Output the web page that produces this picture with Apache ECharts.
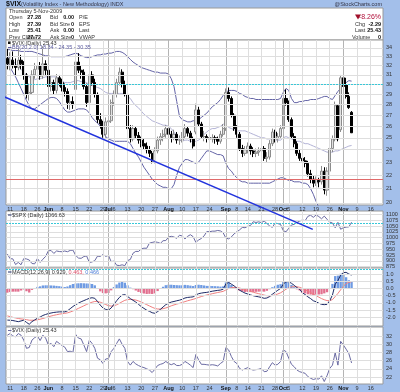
<!DOCTYPE html>
<html><head><meta charset="utf-8">
<script src="https://cdn.jsdelivr.net/npm/echarts@6/dist/echarts.min.js"></script>
<style>html,body{margin:0;padding:0;background:#a3bfea}#c{width:400px;height:392px}</style>
</head><body><div id="c"></div><script>
// ---------- categories (trading days, 8-May-2009 .. 20-Nov-2009) ----------
const dates = ["5/8","5/11","5/12","5/13","5/14","5/15","5/18","5/19","5/20","5/21","5/22","5/26","5/27","5/28","5/29",
"6/1","6/2","6/3","6/4","6/5","6/8","6/9","6/10","6/11","6/12","6/15","6/16","6/17","6/18","6/19","6/22","6/23","6/24","6/25","6/26","6/29","6/30",
"7/1","7/2","7/6","7/7","7/8","7/9","7/10","7/13","7/14","7/15","7/16","7/17","7/20","7/21","7/22","7/23","7/24","7/27","7/28","7/29","7/30","7/31",
"8/3","8/4","8/5","8/6","8/7","8/10","8/11","8/12","8/13","8/14","8/17","8/18","8/19","8/20","8/21","8/24","8/25","8/26","8/27","8/28","8/31",
"9/1","9/2","9/3","9/4","9/8","9/9","9/10","9/11","9/14","9/15","9/16","9/17","9/18","9/21","9/22","9/23","9/24","9/25","9/28","9/29","9/30",
"10/1","10/2","10/5","10/6","10/7","10/8","10/9","10/12","10/13","10/14","10/15","10/16","10/19","10/20","10/21","10/22","10/23","10/26","10/27","10/28","10/29","10/30",
"11/2","11/3","11/4","11/5","11/6","11/9","11/10","11/11","11/12","11/13","11/16","11/17","11/18","11/19","11/20"];

// ---------- $VIX daily OHLC ----------
const vixOpen = [32.8,32.2,32.6,32.0,31.8,32.6,32.2,31.0,29.0,29.2,31.0,31.6,32.0,30.9,32.2,
31.5,29.8,30.2,29.4,30.7,30.2,29.7,29.3,28.2,28.3,29.5,32.4,31.5,31.3,29.8,28.2,31.0,30.2,29.0,26.6,26.2,25.3,
26.4,26.5,28.2,29.0,30.2,31.3,30.0,29.0,25.8,24.9,25.8,25.2,24.8,24.5,24.3,24.0,23.7,23.1,23.9,24.8,25.1,25.3,
25.8,25.3,25.0,25.3,24.8,24.8,25.1,25.8,25.4,24.9,25.5,27.5,26.2,25.1,25.1,25.0,24.9,25.0,24.9,24.7,25.3,
25.8,29.2,28.6,27.0,25.8,25.3,24.1,23.7,24.0,24.3,23.9,23.7,23.8,23.9,24.1,23.3,23.4,24.5,25.5,24.9,25.1,
25.8,28.6,28.2,26.6,25.1,24.5,23.7,23.3,23.1,22.9,22.1,21.7,21.4,21.6,21.5,22.3,20.9,22.3,24.1,24.9,27.9,25.7,
30.7,30.0,28.8,27.28];
const vixHigh = [33.9,33.5,33.6,32.8,34.0,33.2,32.5,31.2,30.1,31.5,32.3,32.9,32.4,34.2,32.6,
31.6,30.9,30.5,31.1,31.0,30.6,30.1,29.6,28.9,28.8,32.7,33.4,32.0,31.6,30.1,31.3,31.4,30.6,29.2,27.2,26.5,26.8,
27.1,28.5,29.4,30.6,31.8,31.6,30.4,29.1,26.1,26.1,26.0,25.5,25.1,24.9,24.6,24.3,23.9,24.2,25.1,25.4,25.7,26.1,
26.0,25.6,25.7,25.5,25.2,25.5,26.2,26.0,25.6,25.1,28.1,27.8,26.4,25.6,25.3,25.4,25.3,25.2,25.1,25.6,26.2,
29.6,29.7,28.8,27.2,26.1,25.5,24.4,24.3,24.6,24.5,24.2,24.1,24.2,24.4,24.3,23.8,24.8,25.8,25.7,25.4,26.1,
28.9,29.5,28.4,26.8,25.4,24.7,24.0,23.6,23.4,23.1,22.4,22.0,21.9,21.8,22.7,22.6,22.6,24.4,25.2,28.3,28.0,31.0,
31.6,30.7,29.2,27.39];
const vixLow = [31.6,31.5,31.7,30.9,31.5,31.6,30.5,28.6,28.4,29.0,30.6,31.2,30.5,30.6,31.0,
29.5,29.3,29.0,29.1,29.8,29.3,28.8,27.6,27.5,27.6,29.3,31.2,30.6,29.5,27.8,28.0,29.9,28.7,26.3,25.8,25.0,25.0,
25.9,26.3,27.9,28.7,29.9,29.7,28.8,25.6,24.6,24.7,24.9,24.5,24.2,24.0,23.7,23.4,22.9,22.9,23.7,24.4,24.7,25.0,
25.0,24.6,24.8,24.5,24.4,24.6,24.9,25.1,24.6,24.1,25.3,26.0,24.9,24.7,24.6,24.6,24.6,24.5,24.4,24.5,25.1,
25.6,28.3,26.8,25.6,25.0,23.9,23.4,23.5,23.7,23.6,23.4,23.4,23.5,23.6,23.1,23.0,23.2,24.3,24.6,24.6,24.9,
25.6,27.9,26.4,24.9,24.2,23.5,23.1,22.8,22.6,21.9,21.4,21.1,21.2,21.1,21.3,20.6,20.5,22.1,23.8,24.7,24.7,25.5,
29.5,28.6,27.6,25.41];
const vixClose = [32.2,32.6,32.0,31.8,32.6,32.2,31.0,29.0,29.2,31.0,31.6,32.0,30.9,32.2,31.5,
29.8,30.2,29.4,30.7,30.2,29.7,29.3,28.2,28.3,28.0,32.4,31.5,31.3,29.8,28.2,31.0,30.2,29.0,26.6,26.2,25.3,26.4,
26.5,28.2,29.0,30.2,31.3,30.0,29.0,25.8,24.9,25.8,25.2,24.8,24.5,24.3,24.0,23.7,23.1,23.9,24.8,25.1,25.3,25.8,
25.3,25.0,25.3,24.8,24.8,25.1,25.8,25.4,24.9,24.3,27.5,26.2,25.1,25.1,25.0,24.9,25.0,24.9,24.7,25.3,25.8,
29.2,28.6,27.0,25.8,25.3,24.1,23.7,24.0,24.3,23.9,23.7,23.8,23.9,24.1,23.3,23.4,24.5,25.5,24.9,25.1,25.8,
28.6,28.2,26.6,25.1,24.5,23.7,23.3,23.1,22.9,22.1,21.7,21.4,21.6,21.5,22.3,20.9,22.3,24.1,24.9,27.9,24.9,30.7,
29.8,28.8,27.72,25.43];

// ---------- Bollinger Bands (20,2) ----------
const bbUpper = [33.8,33.8,33.7,33.7,33.7,33.6,33.6,33.6,33.6,33.6,33.5,
33.4,33.3,33.2,33.1,33.1,33.0,33.0,33.0,33.0,33.0,
33.0,33.1,33.2,33.3,33.4,33.3,33.1,33.0,32.9,32.9,
33.0,33.1,33.2,33.2,33.3,33.3,33.4,33.4,33.5,33.6,
33.6,33.5,33.3,33.0,32.7,32.4,32.2,32.0,31.8,31.7,
31.6,31.5,31.4,31.3,31.3,31.2,31.2,31.2,31.1,30.6,
29.8,28.3,26.9,26.6,26.5,26.4,26.4,26.5,26.5,26.6,
26.8,27.0,27.2,27.5,27.8,28.0,28.2,28.5,28.9,29.2,
29.4,29.4,29.4,29.3,29.1,29.0,28.8,28.7,28.6,28.6,
28.5,28.5,28.5,28.5,28.5,28.5,28.5,28.5,28.5,28.6,
29.2,29.6,29.4,28.6,28.2,28.2,28.3,28.3,28.4,28.4,
28.5,28.5,28.5,28.6,28.7,28.8,28.8,28.6,28.5,28.9,
29.3,29.6,29.9,30.2,30.4,30.35];
const bbMiddle = [33.0,32.8,32.5,32.2,31.9,31.6,31.3,31.0,30.8,30.6,30.5,
30.6,30.6,30.7,30.8,30.8,30.8,30.8,30.8,30.6,30.4,
30.2,30.2,30.2,30.3,30.4,30.4,30.3,30.3,30.2,30.0,
29.9,29.8,29.7,29.6,29.4,29.2,29.1,29.1,29.1,29.1,
29.1,29.1,29.0,28.8,28.6,28.2,27.9,27.7,27.4,27.1,
26.9,26.7,26.5,26.4,26.3,26.2,26.1,26.1,26.0,25.8,
25.5,25.1,24.8,24.7,24.8,24.8,24.7,24.7,24.7,24.8,
25.0,25.3,25.5,25.7,25.8,25.8,25.9,26.0,26.2,26.1,
25.9,25.8,25.7,25.6,25.6,25.6,25.6,25.5,25.4,25.3,
25.2,25.1,25.0,25.0,24.9,24.9,24.9,24.8,24.8,24.8,
25.0,25.1,25.0,24.9,24.8,24.7,24.7,24.6,24.5,24.5,
24.4,24.3,24.2,24.1,24.0,23.9,23.8,23.8,23.8,23.9,
23.9,24.0,24.1,24.2,24.3,24.35];
const bbLower = [32.2,31.8,31.3,30.8,30.2,29.6,29.0,28.4,27.9,27.6,27.6,
27.8,28.0,28.2,28.4,28.6,28.7,28.7,28.6,28.3,27.9,
27.5,27.3,27.3,27.4,27.5,27.6,27.6,27.6,27.5,27.2,
26.8,26.5,26.3,26.0,25.5,25.1,24.9,24.8,24.7,24.7,
24.7,24.7,24.7,24.7,24.5,24.1,23.7,23.4,23.0,22.6,
22.3,22.0,21.7,21.5,21.3,21.2,21.1,21.1,21.0,21.0,
21.3,22.0,22.6,22.9,23.2,23.2,23.1,23.0,22.9,23.0,
23.3,23.6,23.9,23.9,23.8,23.7,23.6,23.6,23.5,22.9,
22.5,22.3,22.0,21.8,21.6,21.5,21.5,21.4,21.4,21.4,
21.4,21.4,21.4,21.4,21.4,21.4,21.5,21.6,21.7,21.8,
21.8,21.7,21.6,21.6,21.5,21.5,21.5,21.4,21.4,21.3,
21.0,20.6,20.1,19.7,19.4,19.1,18.9,18.7,18.6,18.5,
18.4,18.3,18.3,18.3,18.3,18.34];

// ---------- $SPX daily close ----------
const spxClose = [929.2,909.2,908.4,883.9,893.1,882.9,909.7,908.1,903.5,888.3,887.0,910.3,893.1,906.8,919.1,
942.9,944.7,931.8,942.5,940.1,939.1,942.4,939.2,944.9,946.2,923.7,912.0,910.7,918.4,921.2,893.0,895.1,900.9,920.3,918.9,927.2,919.3,
923.3,896.4,898.7,881.0,879.6,882.7,879.1,901.1,905.8,932.7,940.7,940.4,951.1,954.6,954.1,976.3,979.3,982.2,979.6,975.2,986.8,987.5,
1002.6,1005.7,1002.7,997.1,1010.5,1007.1,994.4,1005.8,1012.7,1004.1,979.7,989.7,996.5,1007.4,1026.1,1025.6,1028.0,1028.1,1031.0,1028.9,1020.6,
998.0,994.8,1003.2,1016.4,1025.4,1033.4,1044.1,1042.7,1049.3,1052.6,1068.8,1065.5,1068.3,1064.7,1071.7,1060.9,1050.8,1044.4,1063.0,1060.6,1057.1,
1029.9,1025.2,1040.5,1054.7,1057.6,1065.5,1071.5,1076.2,1073.2,1092.0,1096.6,1087.7,1097.9,1091.1,1081.4,1092.9,1079.6,1067.0,1063.4,1042.6,1066.1,1036.2,
1042.9,1045.4,1046.5,1066.6];

// ---------- MACD(12,26,9) of $VIX ----------
const macdLine = [-2.19,-2.2,-2.22,-2.26,-2.3,-2.25,-2.2,-2.35,-2.48,-2.3,-2.18,-2.06,-1.98,-1.87,-1.8,
-1.74,-1.7,-1.66,-1.64,-1.62,-1.62,-1.62,-1.55,-1.4,-1.25,-1.12,-1.02,-0.92,-0.84,-0.76,-0.68,-0.64,-0.68,-0.9,-1.15,-1.35,-1.45,
-1.5,-1.35,-1.1,-0.85,-0.62,-0.46,-0.42,-0.55,-0.7,-0.82,-0.94,-1.1,-1.25,-1.38,-1.5,-1.58,-1.68,-1.72,-1.6,-1.45,-1.28,-1.12,
-1.02,-0.94,-0.9,-0.85,-0.81,-0.75,-0.66,-0.62,-0.6,-0.58,-0.45,-0.36,-0.32,-0.29,-0.27,-0.23,-0.19,-0.16,-0.13,-0.11,-0.05,
0.32,0.42,0.3,0.18,0.02,-0.12,-0.22,-0.32,-0.38,-0.45,-0.5,-0.54,-0.58,-0.62,-0.68,-0.66,-0.56,-0.4,-0.26,-0.12,0.0,
0.3,0.47,0.46,0.36,0.22,0.06,-0.06,-0.3,-0.42,-0.58,-0.7,-0.85,-0.92,-1.02,-1.1,-1.12,-1.1,-0.85,-0.45,0.3,0.55,0.93,
1.1,1.12,1.0,0.929];
const macdSignal = [-1.9,-1.95,-2.0,-2.04,-2.08,-2.11,-2.13,-2.16,-2.2,-2.2,-2.2,-2.17,-2.13,-2.08,-2.02,
-1.96,-1.91,-1.86,-1.82,-1.78,-1.75,-1.72,-1.69,-1.63,-1.56,-1.47,-1.38,-1.29,-1.2,-1.11,-1.02,-0.95,-0.9,-0.9,-0.95,-1.03,-1.11,
-1.19,-1.22,-1.2,-1.13,-1.03,-0.92,-0.82,-0.77,-0.76,-0.77,-0.8,-0.86,-0.94,-1.03,-1.12,-1.21,-1.3,-1.38,-1.42,-1.43,-1.4,-1.35,
-1.28,-1.2,-1.14,-1.08,-1.03,-0.97,-0.91,-0.85,-0.8,-0.75,-0.69,-0.62,-0.56,-0.5,-0.45,-0.41,-0.36,-0.32,-0.28,-0.24,-0.2,
-0.1,0.0,0.06,0.08,0.07,0.03,-0.02,-0.08,-0.14,-0.2,-0.26,-0.31,-0.36,-0.41,-0.46,-0.5,-0.51,-0.49,-0.44,-0.38,-0.3,
-0.18,-0.05,0.05,0.11,0.13,0.12,0.08,0.0,-0.08,-0.18,-0.28,-0.4,-0.5,-0.6,-0.7,-0.78,-0.84,-0.84,-0.77,-0.56,-0.34,-0.09,
0.15,0.34,0.43,0.463];
const macdHist = [-0.29,-0.25,-0.22,-0.22,-0.22,-0.14,-0.07,-0.19,-0.28,-0.1,0.02,0.11,0.15,0.21,0.22,
0.22,0.21,0.2,0.18,0.16,0.13,0.1,0.14,0.23,0.31,0.35,0.36,0.37,0.36,0.35,0.34,0.31,0.22,0.0,-0.2,-0.32,-0.34,
-0.31,-0.13,0.1,0.28,0.41,0.46,0.4,0.22,0.06,-0.05,-0.14,-0.24,-0.31,-0.35,-0.38,-0.37,-0.38,-0.34,-0.18,-0.02,0.12,0.23,
0.26,0.26,0.24,0.23,0.22,0.22,0.25,0.23,0.2,0.17,0.24,0.26,0.24,0.21,0.18,0.18,0.17,0.16,0.15,0.13,0.15,
0.42,0.42,0.24,0.1,-0.05,-0.15,-0.2,-0.24,-0.24,-0.25,-0.24,-0.23,-0.22,-0.21,-0.22,-0.16,-0.05,0.09,0.18,0.26,0.3,
0.48,0.52,0.41,0.25,0.09,-0.06,-0.14,-0.3,-0.34,-0.4,-0.42,-0.45,-0.42,-0.42,-0.4,-0.34,-0.26,-0.01,0.32,0.86,0.89,1.02,
0.95,0.78,0.57,0.466];

// ---------- axis ticks ----------
const xTicks = [["5/11","11"],["5/18","18"],["5/26","26"],["6/1","Jun"],["6/8","8"],["6/15","15"],["6/22","22"],["6/29","29"],
["7/1","Jul"],["7/6","6"],["7/13","13"],["7/20","20"],["7/27","27"],["8/3","Aug"],["8/10","10"],["8/17","17"],["8/24","24"],
["9/1","Sep"],["9/8","8"],["9/14","14"],["9/21","21"],["9/28","28"],["10/1","Oct"],["10/5","5"],["10/12","12"],["10/19","19"],
["10/26","26"],["11/2","Nov"],["11/9","9"],["11/16","16"]];
const monthTicks = ["6/1","7/1","8/3","9/1","10/1","11/2"];
const vixTicks = [20,21,22,23,24,25,26,27,28,29,30,31,32,33,34];
const spxTicks = [875,900,925,950,975,1000,1025,1050,1075,1100];
const macdTicks = [-2.0,-1.5,-1.0,-0.5,0.0,0.5,1.0];
const vixLineTicks = [22,24,26,28,30,32];
// annotation lines
const trendX = [-2.7, 111.8];
const trendY = [28.94, 18.27];
const vixLevels = {cyan: 30.0, red: 21.7};
const spxLevel = 1062;

// ---------- header ----------
const quote = {date:"Thursday 5-Nov-2009", open:"27.28", high:"27.39", low:"25.41", prev:"27.72",
  pct:"-8.26%", chg:"-2.29", last:"25.43", volume:"0"};

const FONT = "'Liberation Sans', Arial, sans-serif";
const GL = '#dedede', GM = '#b4b4b4', LBL = '#333';
const tickMap = {}; xTicks.forEach(t => tickMap[t[0]] = t[1]);
const grids = [
  {left:6, top:40, width:377, height:165},
  {left:6, top:211, width:377, height:57},
  {left:6, top:268, width:377, height:58},
  {left:6, top:327, width:377, height:57}
].map(g => Object.assign(g, {show:true, backgroundColor:'#fff', borderColor:'#9a9a9a', borderWidth:1}));

function xAx(i, labels){
  return {type:'category', gridIndex:i, data:dates, boundaryGap:true,
    axisLine:{show:false}, axisTick:{show:false}, splitLine:{show:false},
    axisLabel:{show:labels, interval:(idx, v) => tickMap[v] !== undefined, hideOverlap:false,
      formatter:(v) => tickMap[v] === undefined ? '' : (monthTicks.includes(v) ? '{m|' + tickMap[v] + '}' : tickMap[v]),
      rich:{m:{fontSize:5.5, fontFamily:FONT, color:'#111', fontWeight:'bold'}},
      fontSize:5.5, fontFamily:FONT, color:LBL, margin:1.5}};
}
function vLines(){
  return xTicks.map(t => ({xAxis:t[0], lineStyle:{color: monthTicks.includes(t[0]) ? GM : GL}}));
}
function hLines(vals, fmt){
  return vals.map(v => ({yAxis:v, label:{show:true, position:'end', formatter:fmt(v), distance:3,
    fontSize:5.5, fontFamily:FONT, color:LBL}}));
}
function gridSeries(i, vals, fmt){
  return {type:'line', xAxisIndex:i, yAxisIndex:i, data:[], z:1, silent:true,
    markLine:{silent:true, animation:false, symbol:['none','none'], precision:4,
      lineStyle:{type:'solid', width:1, color:GL}, label:{show:false},
      data:[...vLines(), ...hLines(vals, fmt)]}};
}
const posColor = '#6f9be3', negColor = '#e2708f';

const option = {
  animation:false,
  backgroundColor:'#a3bfea',
  grid: grids,
  xAxis:[xAx(0,true), xAx(1,false), xAx(2,false), xAx(3,true),
    {type:'value', gridIndex:0, min:-0.5, max:137.5, show:false}],
  yAxis:[
    {type:'log', logBase:10, gridIndex:0, min:19.86, max:34.94, show:false},
    {type:'value', gridIndex:1, min:869, max:1115, show:false},
    {type:'value', gridIndex:2, min:-2.6, max:1.42, show:false},
    {type:'value', gridIndex:3, min:20.3, max:34.2, show:false}
  ],
  series:[
    gridSeries(0, vixTicks, v => String(v)),
    gridSeries(1, spxTicks, v => String(v)),
    gridSeries(2, macdTicks, v => v.toFixed(1)),
    gridSeries(3, vixLineTicks, v => String(v)),
    {type:'line', xAxisIndex:0, yAxisIndex:0, data:bbMiddle, symbol:'none', z:2, lineStyle:{color:'#b3b3d6', width:1}},
    {type:'line', xAxisIndex:0, yAxisIndex:0, data:bbUpper, symbol:'none', z:2, lineStyle:{color:'#6464a6', width:1}},
    {type:'line', xAxisIndex:0, yAxisIndex:0, data:bbLower, symbol:'none', z:2, lineStyle:{color:'#6464a6', width:1}},
    {type:'candlestick', xAxisIndex:0, yAxisIndex:0, z:3, barWidth:2.6,
      data: vixOpen.map((o,i) => [o, vixClose[i], vixLow[i], vixHigh[i]]),
      itemStyle:{color:'#e2e2e2', color0:'#000', borderColor:'#8c8c8c', borderColor0:'#000', borderWidth:1}},
    {type:'line', xAxisIndex:0, yAxisIndex:0, data:[], z:4, silent:true,
      markLine:{silent:true, symbol:['none','none'], label:{show:false}, data:[
        {yAxis:vixLevels.cyan, lineStyle:{color:'#38c8d8', type:[2,1], width:1}},
        {yAxis:vixLevels.red, lineStyle:{color:'#e06a6a', type:'solid', width:1}}]}},
    {type:'line', xAxisIndex:4, yAxisIndex:0, clip:false, z:6, symbol:'none',
      data: trendX.map((x,i)=>[x, trendY[i]]), lineStyle:{color:'#2233dd', width:1.5}},
    {type:'line', xAxisIndex:1, yAxisIndex:1, data:spxClose, symbol:'none', z:2, lineStyle:{color:'#6a6aa2', width:1},
      markLine:{silent:true, symbol:['none','none'], label:{show:false}, data:[
        {yAxis:spxLevel, lineStyle:{color:'#38c8d8', type:[2,1], width:1}}]}},
    {type:'bar', xAxisIndex:2, yAxisIndex:2, data:macdHist, z:2, barWidth:'85%',
      itemStyle:{color:(p) => p.value >= 0 ? posColor : negColor},
      markLine:{silent:true, symbol:['none','none'], label:{show:false}, data:[
        {yAxis:1.33, lineStyle:{color:'#38c8d8', type:[2,1], width:1}}]}},
    {type:'line', xAxisIndex:2, yAxisIndex:2, data:macdSignal, symbol:'none', z:3, lineStyle:{color:'#f07f7f', width:1}},
    {type:'line', xAxisIndex:2, yAxisIndex:2, data:macdLine, symbol:'none', z:4, lineStyle:{color:'#1d2a66', width:1}},
    {type:'line', xAxisIndex:3, yAxisIndex:3, data:vixClose, symbol:'none', z:2, lineStyle:{color:'#6a6aa2', width:1}}
  ],
  graphic:[]
};

const G = option.graphic;
function txt(x, y, s, o){
  G.push({type:'text', x:x, y:y, silent:true, z:100, style:Object.assign({text:s, fontSize:5.5, fontFamily:FONT, fill:'#333',
    align:'left', verticalAlign:'middle'}, o||{})});
}
G.push({type:'rect', shape:{x:6, y:8, width:377, height:32}, style:{fill:'#fff', stroke:'#9a9a9a', lineWidth:1}, z:-1, silent:true});
txt(6, 4.5, '$VIX', {fontSize:7, fontWeight:'bold', fill:'#111'});
txt(21, 4.5, '(Volatility Index - New Methodology) INDX', {fontSize:5.5, fill:'#334'});
txt(382, 4.5, '@StockCharts.com', {align:'right', fontSize:5.5, fill:'#334'});
txt(9, 11, quote.date);
const rowsY = [17.5, 24, 30.5, 37];
[['Open',quote.open],['High',quote.high],['Low',quote.low],['Prev Close',quote.prev]].forEach((r,i) => {
  txt(9, rowsY[i], r[0]); txt(41, rowsY[i], r[1], {align:'right', fontWeight:'bold', fill:'#111'});
});
[['Bid','0.00'],['Bid Size','0'],['Ask','0.00'],['Ask Size','0']].forEach((r,i) => {
  txt(50, rowsY[i], r[0]); txt(74, rowsY[i], r[1], {align:'right', fontWeight:'bold', fill:'#111'});
});
['P/E','EPS','Last','VWAP'].forEach((r,i) => txt(79, rowsY[i], r));
G.push({type:'polygon', shape:{points:[[355,14.5],[361,14.5],[358,19.5]]}, style:{fill:'#a0102a'}, z:100, silent:true});
txt(381, 17, quote.pct, {align:'right', fontSize:7, fill:'#b0103a'});
txt(355, 24, 'Chg'); txt(381, 24, quote.chg, {align:'right', fontWeight:'bold', fill:'#111'});
txt(355, 30.5, 'Last'); txt(381, 30.5, quote.last, {align:'right', fontWeight:'bold', fill:'#111'});
txt(352, 37, 'Volume'); txt(381, 37, quote.volume, {align:'right', fontWeight:'bold', fill:'#111'});
G.push({type:'rect', shape:{x:8, y:41.5, width:2.5, height:2.5}, style:{fill:'#111'}, z:100, silent:true});
txt(12, 43, '$VIX (Daily) 25.43');
G.push({type:'rect', shape:{x:8, y:47, width:3.5, height:1}, style:{fill:'#5c5ca0'}, z:100, silent:true});
txt(12, 47.5, 'BB(20,2.0) 18.34 - 24.35 - 30.35', {fill:'#5c5ca0'});
G.push({type:'rect', shape:{x:8, y:214.5, width:3.5, height:1}, style:{fill:'#1d2a66'}, z:100, silent:true});
txt(12, 215, '$SPX (Daily) 1066.63');
G.push({type:'rect', shape:{x:8, y:271.5, width:3.5, height:1}, style:{fill:'#1d2a66'}, z:100, silent:true});
txt(12, 272, '{a|MACD(12,26,9) 0.929,} {r|0.463,} {b|0.466}', {rich:{
  a:{fontSize:5.5, fontFamily:FONT, fill:'#333'}, r:{fontSize:5.5, fontFamily:FONT, fill:'#e0506a'}, b:{fontSize:5.5, fontFamily:FONT, fill:'#4f7fd8'}}});
G.push({type:'rect', shape:{x:8, y:330, width:3.5, height:1}, style:{fill:'#6a6aa2'}, z:100, silent:true});
txt(12, 330.5, '$VIX (Daily) 25.43');

const chart = echarts.init(document.getElementById('c'), null, {renderer:'canvas', width:400, height:392});
chart.setOption(option);
</script></body></html>
